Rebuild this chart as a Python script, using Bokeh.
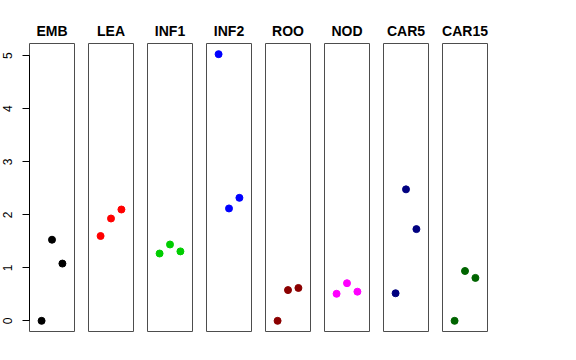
from bokeh.plotting import figure
from bokeh.layouts import row
from bokeh.models import Range1d, LinearAxis, FixedTicker, ColumnDataSource
from bokeh.embed import file_html
from bokeh.resources import INLINE

# ---- data ----
categories = ["EMB", "LEA", "INF1", "INF2", "ROO", "NOD", "CAR5", "CAR15"]
colors = ["black", "red", "#00CD00", "blue", "#8B0000", "magenta", "#000080", "#006400"]
replicate = [1, 2, 3]
EMB = [0.0, 1.53, 1.08]
LEA = [1.60, 1.93, 2.10]
INF1 = [1.27, 1.44, 1.31]
INF2 = [5.03, 2.12, 2.32]
ROO = [0.0, 0.58, 0.62]
NOD = [0.51, 0.71, 0.55]
CAR5 = [0.52, 2.48, 1.73]
CAR15 = [0.0, 0.94, 0.81]
series = [EMB, LEA, INF1, INF2, ROO, NOD, CAR5, CAR15]
y_ticks = [0, 1, 2, 3, 4, 5]

# R-style 4% range extension
ymin = min(min(s) for s in series)
ymax = max(max(s) for s in series)
ypad = (ymax - ymin) * 0.04
xlo, xhi = 0, 4
xpad = (xhi - xlo) * 0.04

FONT = "Liberation Sans"
figs = []
for i, (name, vals, col) in enumerate(zip(categories, series, colors)):
    first = i == 0
    p = figure(
        output_backend="svg", toolbar_location=None,
        frame_width=45, frame_height=288,
        x_range=Range1d(xlo - xpad, xhi + xpad),
        y_range=Range1d(ymin - ypad, ymax + ypad),
        x_axis_location=None, y_axis_location=None,
        min_border_left=29 if first else 7, min_border_right=7,
        min_border_top=43, min_border_bottom=20,
        title=name,
    )
    p.title.align = "center"
    p.title.text_font = FONT
    p.title.text_font_size = "14px"
    p.title.text_font_style = "bold"
    p.title.text_color = "black"
    p.grid.visible = False
    p.outline_line_color = "#4d4d4d"
    p.outline_line_width = 1
    p.background_fill_color = "white"
    p.border_fill_color = "white"
    src = ColumnDataSource(dict(x=replicate, y=vals))
    p.scatter("x", "y", source=src, size=7, color=col, line_color=col)
    if first:
        ax = LinearAxis(ticker=FixedTicker(ticks=y_ticks), bounds=(y_ticks[0], y_ticks[-1]))
        ax.major_label_orientation = "vertical"
        ax.major_tick_out = 7
        ax.major_tick_in = 0
        ax.minor_tick_line_color = None
        ax.major_label_standoff = 10
        ax.major_label_text_font = FONT
        ax.major_label_text_font_size = "12px"
        ax.major_label_text_color = "black"
        ax.axis_line_color = "black"
        ax.major_tick_line_color = "black"
        p.add_layout(ax, "left")
    figs.append(p)

layout = row(*figs)
open("out.html", "w").write(file_html(layout, INLINE))
